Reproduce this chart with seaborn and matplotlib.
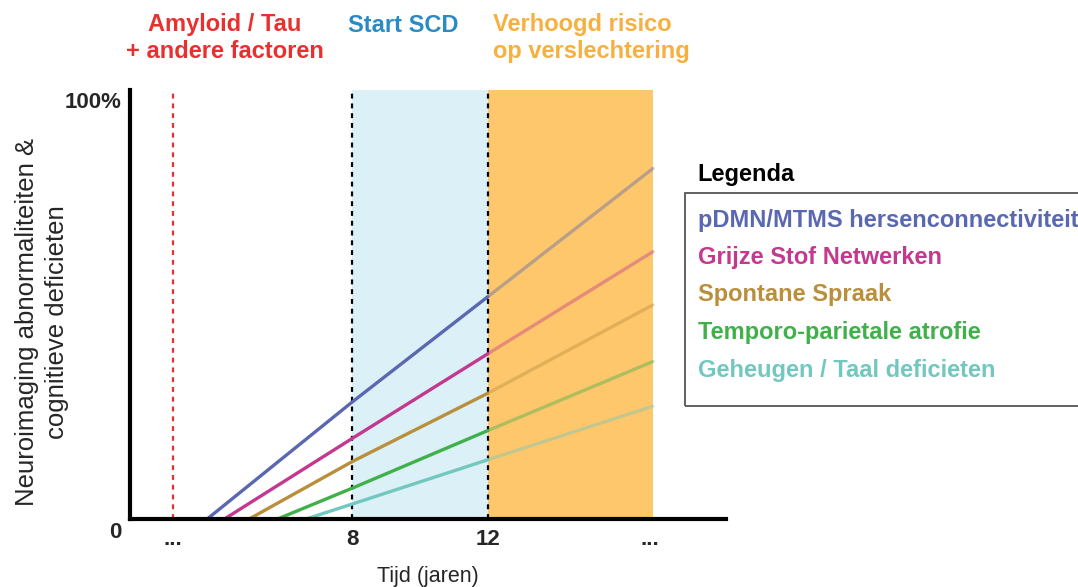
import matplotlib
matplotlib.use("Agg")
import matplotlib.pyplot as plt
import matplotlib.transforms as mtransforms
from matplotlib.patches import Rectangle
import numpy as np
import pandas as pd
import seaborn as sns

# Data (x in years, y in %)
series = ["pDMN/MTMS hersenconnectiviteit", "Grijze Stof Netwerken", "Spontane Spraak",
          "Temporo-parietale atrofie", "Geheugen / Taal deficieten"]
colors = ["#5a67b1", "#c2398f", "#b98f3c", "#40b04a", "#72c7bf"]
start_years = [3.71, 4.22, 4.95, 5.79, 6.63]
at_8 = [27.3, 18.8, 13.4, 7.2, 3.5]
at_12 = [51.8, 38.5, 29.3, 20.6, 13.8]
at_end = [81.7, 62.3, 49.9, 36.7, 26.3]
end_year = 16.88

amyloid_year = 2.69
scd_year = 8
risk_year = 12
x_ticks = [amyloid_year, 8, 12, 16.8]
x_ticklabels = ["...", "8", "12", "..."]

rows = []
for name, s, a, b, c in zip(series, start_years, at_8, at_12, at_end):
    rows += [(name, "early", s, 0), (name, "early", 8, a), (name, "early", 12, b),
             (name, "late", 12, b), (name, "late", end_year, c)]
df = pd.DataFrame(rows, columns=["reeks", "fase", "jaar", "waarde"])

sns.set_theme(style="white")
plt.rcParams['font.family'] = ['Liberation Sans', 'DejaVu Sans']

fig = plt.figure(figsize=(10.78, 5.87), dpi=100)
ax = fig.add_axes([130 / 1078, 1 - 519 / 587, (726 - 130) / 1078, (519 - 90) / 587])
ax.set_xlim(1.43, 19.04)
ax.set_ylim(0, 100)

# background phases
ax.axvspan(scd_year, risk_year, color="#dcf0f8", zorder=0, lw=0)
ax.axvspan(risk_year, end_year, color="#fec76b", zorder=0, lw=0)
ax.axvline(amyloid_year, color="#e8312f", ls=(0, (2.2, 2.2)), lw=1.6, zorder=1)
ax.axvline(scd_year, color="black", ls=(0, (2.2, 2.2)), lw=1.6, zorder=1)
ax.axvline(risk_year, color="black", ls=(0, (2.2, 2.2)), lw=1.6, zorder=1)

palette = dict(zip(series, colors))
sns.lineplot(data=df[df.fase == "early"], x="jaar", y="waarde", hue="reeks",
             palette=palette, lw=2.4, ax=ax, legend=False, sort=False, estimator=None, zorder=3)
sns.lineplot(data=df[df.fase == "late"], x="jaar", y="waarde", hue="reeks",
             palette=palette, lw=2.4, alpha=0.42, ax=ax, legend=False, sort=False,
             estimator=None, zorder=3)

for side in ["top", "right"]:
    ax.spines[side].set_visible(False)
for side in ["left", "bottom"]:
    ax.spines[side].set_linewidth(3)
    ax.spines[side].set_color("black")
    ax.spines[side].set_zorder(5)

ax.set_xticks(x_ticks)
ax.set_xticklabels(x_ticklabels, fontweight="bold", fontsize=16)
ax.set_yticks([0, 100])
ax.set_yticklabels(["0", "100%"], fontweight="bold", fontsize=16)
ax.tick_params(axis="both", length=0)
ax.tick_params(axis="x", pad=7)
ax.tick_params(axis="y", pad=6)
for lab, dy in zip(ax.get_yticklabels(), [-8, -7]):
    lab.set_transform(lab.get_transform() + mtransforms.ScaledTranslation(0, dy / 72, fig.dpi_scale_trans))
ax.set_xlabel("Tijd (jaren)", fontsize=15.5, labelpad=12)
ax.set_ylabel("")
fig.text(42 / 1078, 1 - 322 / 587, "Neuroimaging abnormaliteiten &\ncognitieve deficieten",
         rotation=90, ha="center", va="center", fontsize=18.5, linespacing=1.35)

# headers
fig.text(225 / 1078, 1 - 38 / 587, "Amyloid / Tau\n+ andere factoren", color="#e8312f",
         ha="center", va="center", fontsize=17, fontweight="bold", linespacing=1.2)
fig.text(403 / 1078, 1 - 25 / 587, "Start SCD", color="#2a8bc4",
         ha="center", va="center", fontsize=17, fontweight="bold")
fig.text(493 / 1078, 1 - 38 / 587, "Verhoogd risico\nop verslechtering", color="#f7b040",
         ha="left", va="center", fontsize=17, fontweight="bold", linespacing=1.2)

# legend
fig.text(697 / 1078, 1 - 175 / 587, "Legenda", color="black", ha="left", va="center",
         fontsize=17, fontweight="bold")
fig.patches.append(Rectangle((685 / 1078, 1 - 406 / 587), 500 / 1078, 213 / 587,
                             transform=fig.transFigure, fill=False, ec="#555555", lw=1.3))
for i, (name, col) in enumerate(zip(series, colors)):
    fig.text(698 / 1078, 1 - (220 + i * 37.5) / 587, name, color=col, ha="left", va="center",
             fontsize=17, fontweight="bold")

fig.savefig("out.png", dpi=100)
